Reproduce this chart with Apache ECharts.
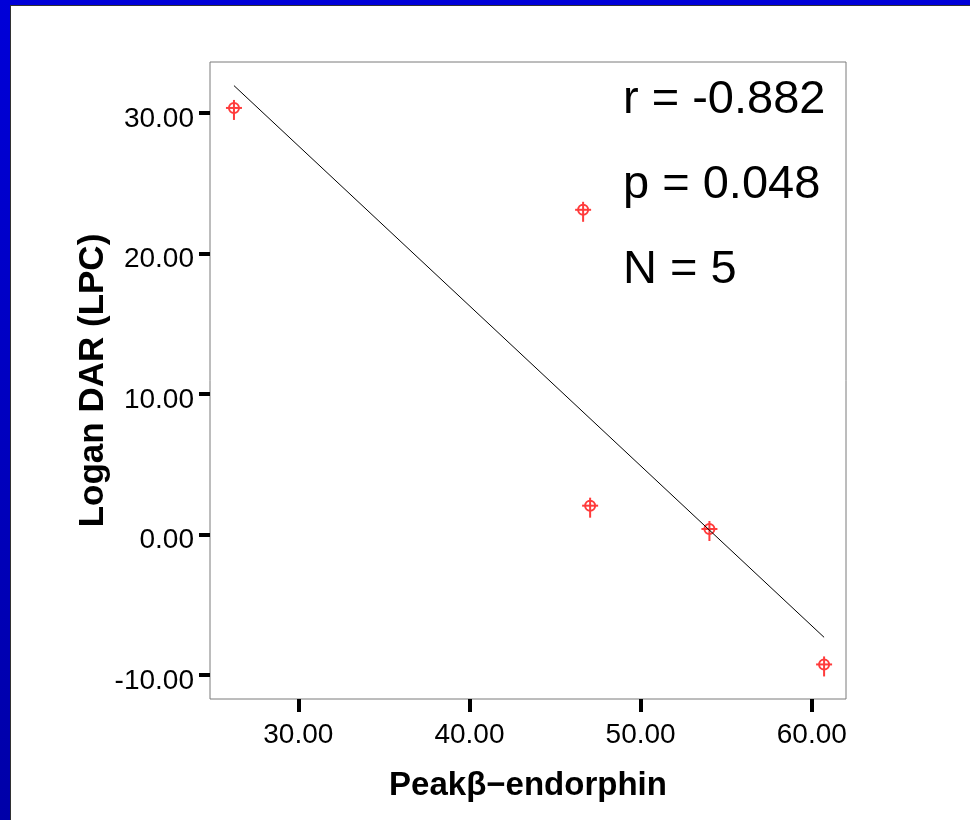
<!DOCTYPE html>
<html>
<head>
<meta charset="utf-8">
<script src="https://cdn.jsdelivr.net/npm/echarts@6/dist/echarts.min.js"></script>
<style>
  html, body {
    margin: 0;
    padding: 0;
    width: 970px;
    height: 820px;
    overflow: hidden;
    background: linear-gradient(#0000d8, #0000a8);
  }
  #frame {
    position: absolute;
    left: 10px;
    top: 5px;
    width: 959px;
    height: 814px;
    border-left: 1px solid #333;
    border-top: 1px solid #333;
    background: #fff;
  }
  #main {
    width: 959px;
    height: 814px;
  }
</style>
</head>
<body>
<div id="frame"><div id="main"></div></div>
<script>
// points
const peakEndorphin = [26.24, 46.64, 47.05, 54.02, 60.72]
const loganDar = [30.36, 23.11, 2.05, 0.39, -9.25]

// fit line end points
const fitX = [26.24, 60.72]
const fitY = [31.95, -7.32]

const xTicks = [30, 40, 50, 60]
const yTicks = [-10, 0, 10, 20, 30]

const statLines = ['r = -0.882', 'p = 0.048', 'N = 5']

const font = '"Liberation Sans", Arial, sans-serif'
const red = '#ff3b3b'

let chartDom = document.getElementById('main')
let myChart = echarts.init(chartDom)
let option

const points = peakEndorphin.map((x, i) => [x, loganDar[i]])
const fit = fitX.map((x, i) => [x, fitY[i]])

option = {
  animation: false,
  backgroundColor: '#fff',
  grid: {
    show: true,
    left: 199,
    top: 56,
    width: 636,
    height: 637,
    borderColor: '#7a7a7a',
    borderWidth: 1,
    backgroundColor: 'transparent'
  },
  xAxis: {
    type: 'value',
    min: 24.84,
    max: 62.0,
    name: 'Peakβ−endorphin',
    nameLocation: 'middle',
    nameGap: 70,
    nameMoveOverlap: false,
    nameTextStyle: { fontFamily: font, fontSize: 33, fontWeight: 'bold', color: '#000' },
    axisLine: { show: false, onZero: false },
    splitLine: { show: false },
    axisTick: {
      show: true,
      length: 13,
      customValues: xTicks,
      lineStyle: { color: '#000', width: 4 }
    },
    axisLabel: {
      customValues: xTicks,
      margin: 22,
      fontFamily: font,
      fontSize: 28,
      color: '#000',
      formatter: v => v.toFixed(2)
    }
  },
  yAxis: {
    type: 'value',
    min: -11.71,
    max: 33.63,
    name: 'Logan DAR (LPC)',
    nameLocation: 'middle',
    nameGap: 99,
    nameRotate: 90,
    nameMoveOverlap: false,
    nameTextStyle: { fontFamily: font, fontSize: 35, fontWeight: 'bold', color: '#000' },
    axisLine: { show: false, onZero: false },
    splitLine: { show: false },
    axisTick: {
      show: true,
      length: 11,
      customValues: yTicks,
      lineStyle: { color: '#000', width: 4 }
    },
    axisLabel: {
      customValues: yTicks,
      margin: 16,
      verticalAlign: 'top',
      lineHeight: 12,
      fontFamily: font,
      fontSize: 28,
      color: '#000',
      formatter: v => v.toFixed(2)
    }
  },
  graphic: statLines.map((t, i) => ({
    type: 'text',
    left: 612,
    top: 71 + i * 85,
    style: { text: t, fontFamily: font, fontSize: 47, fill: '#000' }
  })),
  series: [
    {
      type: 'line',
      data: fit,
      showSymbol: false,
      lineStyle: { color: '#000', width: 1 },
      silent: true
    },
    {
      type: 'custom',
      data: points,
      renderItem: (params, api) => {
        const p = api.coord([api.value(0), api.value(1)])
        const st = { stroke: red, lineWidth: 2, fill: null }
        return {
          type: 'group',
          children: [
            { type: 'circle', shape: { cx: p[0], cy: p[1], r: 5 }, style: st },
            { type: 'line', shape: { x1: p[0] - 8, y1: p[1], x2: p[0] + 8, y2: p[1] }, style: st },
            { type: 'line', shape: { x1: p[0], y1: p[1] - 8, x2: p[0], y2: p[1] + 12 }, style: st }
          ]
        }
      }
    }
  ]
}

option && myChart.setOption(option)
</script>
</body>
</html>
